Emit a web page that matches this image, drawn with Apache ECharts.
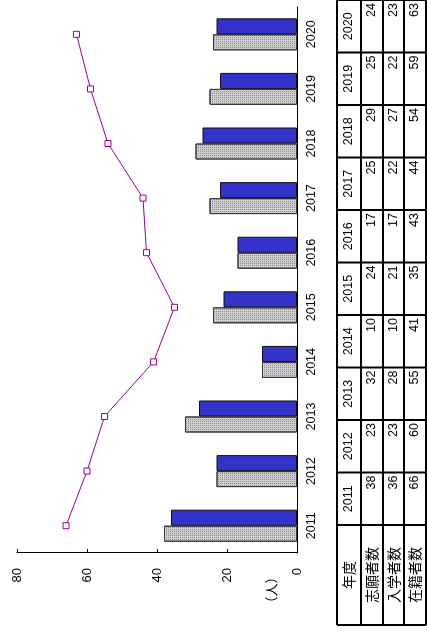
<!DOCTYPE html>
<html>
<head>
<meta charset="utf-8">
<script src="https://cdn.jsdelivr.net/npm/echarts@6/dist/echarts.min.js"></script>
<style>
html,body{margin:0;padding:0;background:#fff;overflow:hidden;}
#wrap{position:absolute;left:0;top:0;width:632px;height:427px;transform-origin:0 0;transform:translate(0,632px) rotate(-90deg);}
</style>
</head>
<body>
<div id="wrap"></div>
<script>
const years = ['2011','2012','2013','2014','2015','2016','2017','2018','2019','2020'];
const applicants = [38,23,32,10,24,17,25,29,25,24];   // 志願者数
const enrolled   = [36,23,28,10,21,17,22,27,22,23];   // 入学者数
const students   = [66,60,55,41,35,43,44,54,59,63];   // 在籍者数
const rowLabels  = ['年度','志願者数','入学者数','在籍者数'];
const valueMin = 0, valueMax = 80, valueStep = 20;
const unitLabel = '（人）';

const NUM = "Liberation Sans, Arial, Helvetica, sans-serif";
const JP = "Noto Sans CJK JP, sans-serif";

const chart = echarts.init(document.getElementById('wrap'), null, {width:632, height:427, renderer:'canvas'});

// data table geometry
const tLeft = 7, tHeadW = 100, colW = 52.5;
const rowYs = [337, 361, 383, 404, 426];
const tRight = tLeft + tHeadW + colW * years.length;
const g = [];
rowYs.forEach(y => g.push({type:'line', shape:{x1:tLeft, y1:y, x2:tRight, y2:y}, style:{stroke:'#000', lineWidth:2}}));
for (let i = 0; i <= years.length + 1; i++) {
  const x = i === 0 ? tLeft : tLeft + tHeadW + colW * (i - 1);
  g.push({type:'line', shape:{x1:x, y1:rowYs[0], x2:x, y2:rowYs[rowYs.length-1]}, style:{stroke:'#000', lineWidth:2}});
}
rowLabels.forEach((lab, r) => {
  g.push({type:'text', x: tLeft + tHeadW/2, y:(rowYs[r]+rowYs[r+1])/2,
    style:{text:lab, fontSize:14, fontFamily:JP, fill:'#000', align:'center', verticalAlign:'middle'}});
});
const rows = [applicants, enrolled, students];
years.forEach((yr, i) => {
  const x0 = tLeft + tHeadW + colW * i;
  g.push({type:'text', x: x0 + colW/2, y:(rowYs[0]+rowYs[1])/2,
    style:{text:yr, fontSize:12.5, fontFamily:NUM, fill:'#000', align:'center', verticalAlign:'middle'}});
  rows.forEach((arr, r) => {
    g.push({type:'text', x: x0 + colW - 3, y:(rowYs[r+1]+rowYs[r+2])/2,
      style:{text:String(arr[i]), fontSize:12.5, fontFamily:NUM, fill:'#000', align:'right', verticalAlign:'middle'}});
  });
});
g.push({type:'text', x:42, y:271, style:{text:unitLabel, fontSize:13, fontFamily:JP, fill:'#000', align:'center', verticalAlign:'middle'}});

chart.setOption({
  animation:false,
  backgroundColor:'#fff',
  textStyle:{fontFamily:NUM},
  grid:{left:79, right:7, top:17, bottom:130, containLabel:false},
  xAxis:{
    type:'category', data:years,
    axisLine:{lineStyle:{color:'#000', width:1}},
    axisTick:{inside:true, length:4, lineStyle:{color:'#000'}},
    axisLabel:{color:'#000', fontSize:12.5, fontFamily:NUM, margin:8}
  },
  yAxis:{
    type:'value', min:valueMin, max:valueMax, interval:valueStep,
    axisLine:{show:true, lineStyle:{color:'#000', width:1}},
    axisTick:{show:true, inside:true, length:4, lineStyle:{color:'#000'}},
    axisLabel:{color:'#000', fontSize:13, fontFamily:NUM, margin:15},
    splitLine:{show:false}
  },
  series:[
    {name:'志願者数', type:'bar', data:applicants, barWidth:16, barGap:'0%',
     itemStyle:{color:'#cfcfcf', borderColor:'#3a3a3a', borderWidth:1,
       decal:{symbol:'rect', symbolSize:1, dashArrayX:[1,1], dashArrayY:[1,1], color:'rgba(60,60,60,0.45)'}}},
    {name:'入学者数', type:'bar', data:enrolled, barWidth:16, barGap:'0%',
     itemStyle:{color:'#3333cc', borderColor:'#111', borderWidth:1}},
    {name:'在籍者数', type:'line', data:students, symbol:'rect', symbolSize:6, z:5,
     lineStyle:{color:'#990099', width:1},
     itemStyle:{color:'#fff', borderColor:'#990099', borderWidth:1}}
  ],
  graphic:g
});
</script>
</body>
</html>
